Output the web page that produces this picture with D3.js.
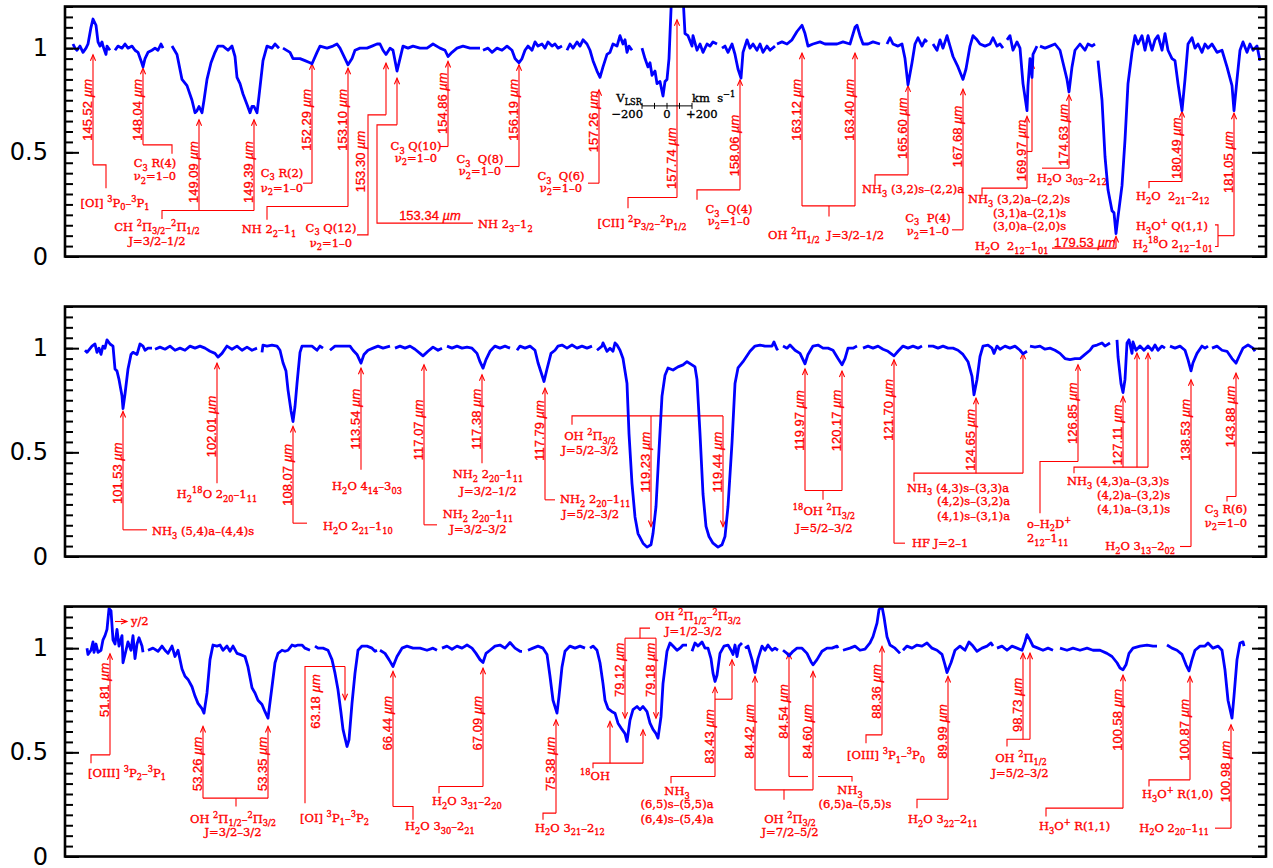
<!DOCTYPE html>
<html>
<head>
<meta charset="utf-8">
<script src="https://cdnjs.cloudflare.com/ajax/libs/d3/7.8.5/d3.min.js"></script>
<style>
body{margin:0;background:#fff}
svg{display:block}
.lbl{font-family:"DejaVu Serif",serif;font-size:11.5px;fill:#f00;stroke:#f00;stroke-width:0.35px;white-space:pre}
.wl{font-family:"Liberation Sans",Arial,sans-serif;font-size:13px;fill:#f00;stroke:#f00;stroke-width:0.3px;white-space:pre}
.yl{font-family:"DejaVu Sans",sans-serif;font-size:24px;fill:#000}
</style>
</head>
<body>
<svg id="chart" width="1273" height="868"></svg>
<script>
// spectra: each panel is a list of segments, points are [position along panel, normalised flux]
const spec1=[
 [[8,1.02],[10,1.0],[12,0.99],[15,1.01],[18,0.98],[21,1.0],[23,1.02],[26,1.10],[28,1.14],[31,1.11],[33,1.03],[35,1.01],[37,1.03],[38,1.01],[41,0.97],[42,1.01],[45,0.99]],
 [[50,0.99],[53,1.01],[57,1.0],[60,1.02],[63,1.0],[67,1.01],[70,0.99],[73,0.98],[76,0.94],[78,0.91],[80,0.95],[83,0.98],[87,0.99],[90,1.0],[93,0.99],[96,1.02],[98,1.0]],
 [[107,1.01],[112,0.97],[117,0.85],[122,0.82],[127,0.75],[130,0.69],[132,0.70],[134,0.72],[137,0.69],[139,0.75],[142,0.85],[146,0.93],[150,0.98],[153,1.01],[158,1.01],[163,0.99],[167,1.01],[170,0.96],[172,0.86],[175,0.83],[178,0.78],[182,0.73],[185,0.69],[187,0.72],[189,0.72],[192,0.69],[194,0.77],[198,0.94],[202,1.01],[207,1.0],[210,1.02],[214,1.0]],
 [[218,1.0],[225,0.98],[228,0.95],[235,0.95],[240,0.94],[245,0.93],[247,0.925],[252,0.98],[255,1.01],[262,1.0],[268,1.01],[272,1.02],[275,1.0],[278,0.97],[283,0.92],[287,0.95],[290,0.99],[295,1.0],[302,1.0],[307,1.01],[312,1.02],[315,1.02],[318,0.99],[321,0.97],[325,1.0],[328,0.99],[332,0.89],[335,0.95],[338,1.01],[343,1.0],[348,1.01],[355,1.0],[362,1.0],[368,1.02],[375,1.0],[380,0.99],[383,0.96],[387,0.98],[392,1.0],[398,1.01],[405,1.0],[415,1.0]],
 [[418,0.99],[423,1.0],[427,0.98],[432,1.0],[437,0.99],[442,1.01],[447,0.99],[450,0.95],[452,0.94],[454,0.93],[457,0.95],[460,0.99],[463,1.01],[467,0.99],[470,1.03],[473,1.01],[477,1.02],[480,1.0],[483,1.03],[487,1.01],[490,1.02],[493,1.0],[497,1.01]],
 [[502,0.99],[505,1.02],[508,1.0],[512,1.03],[515,1.01],[518,1.04],[522,1.02],[525,0.99],[528,0.94],[532,0.89],[535,0.86],[538,0.91],[542,0.97],[545,0.98],[548,1.02],[552,1.01],[555,1.06],[558,1.02],[560,1.04],[562,0.98],[564,1.01],[567,0.99]],
 [[577,1.0],[580,0.95],[583,0.91],[585,0.93],[587,0.87],[590,0.89],[592,0.83],[595,0.84],[598,0.77],[600,0.84],[602,0.85],[604,0.95],[607,1.3],[611,1.5],[615,1.5],[618,1.25],[620,1.07],[623,1.06],[627,1.01],[628,1.06],[632,0.99],[635,1.02],[638,0.98],[642,1.02],[645,1.01],[648,1.03],[652,1.02]],
 [[657,1.0],[660,1.01],[663,0.98],[667,1.02],[670,0.97],[673,0.9],[676,0.856],[678,0.98],[682,1.04],[685,1.0],[688,1.02],[692,0.99],[695,1.02],[698,0.98],[702,1.01],[705,0.99],[710,1.01]],
 [[712,1.02],[717,1.03],[722,1.02],[727,1.04],[732,1.08],[737,1.11],[740,1.07],[743,1.01],[748,1.02],[755,1.03],[760,1.02],[765,1.02],[772,1.02],[778,1.03],[785,1.02],[790,1.10],[792,1.11],[795,1.06],[798,1.02],[803,1.02],[808,1.03],[815,1.02]],
 [[822,1.02],[825,1.05],[828,1.02],[833,1.01],[837,1.02],[840,0.95],[843,0.824],[847,0.93],[850,1.02],[853,1.05],[857,1.01],[860,1.04],[862,1.03]],
 [[868,1.02],[872,0.99],[875,1.04],[878,1.0],[882,1.06],[885,1.01],[888,0.96],[893,0.91],[898,0.85],[901,0.9],[905,1.01],[908,1.06],[912,1.04],[915,1.02],[920,1.01],[925,1.02],[928,1.05],[932,1.01],[935,1.02],[938,1.0]],
 [[942,1.04],[945,1.06],[948,0.99],[952,1.03],[955,1.0],[958,0.83],[962,0.7],[963,0.82],[965,0.95],[967,0.86],[968,0.97],[972,1.01]],
 [[975,1.01],[980,1.0],[985,1.01],[990,1.02],[995,0.99],[998,0.93],[1002,0.85],[1004,0.79],[1007,0.91],[1010,0.99],[1015,1.02],[1020,0.99],[1023,1.02],[1027,1.01],[1030,1.02]],
 [[1033,0.94],[1037,0.75],[1040,0.48],[1043,0.32],[1047,0.22],[1049,0.21],[1051,0.11],[1053,0.19],[1057,0.34],[1060,0.56],[1063,0.83],[1067,0.98],[1070,1.06],[1073,1.02],[1077,1.06],[1080,0.99],[1083,1.06],[1087,0.99],[1090,1.04],[1093,1.06],[1097,0.99],[1100,1.07],[1103,0.99],[1107,0.95],[1110,0.94],[1113,0.83],[1117,0.70],[1120,0.85],[1123,1.02],[1127,1.05],[1130,1.0],[1133,1.02],[1137,0.98],[1140,1.02],[1143,1.0],[1147,1.02],[1152,0.98],[1157,0.99],[1162,0.91],[1167,0.82],[1169,0.70],[1172,0.85],[1175,0.99],[1178,1.03],[1182,0.98],[1185,1.02],[1188,0.99],[1192,1.01],[1195,0.94]]
]
const spec2=[
 [[20,0.99],[22,0.98],[27,1.01],[30,1.02],[32,0.98],[34,1.0],[36,0.97],[38,1.01],[40,1.0],[42,1.04],[45,1.02],[48,1.01],[50,0.9],[52,0.89],[54,0.85],[57,0.77],[58,0.71],[60,0.78],[63,0.9],[66,0.97],[68,0.98],[72,0.97],[75,1.02],[78,1.01],[80,0.99],[83,1.0],[87,1.0]],
 [[90,0.995],[95,1.005],[100,0.995],[105,1.01],[110,0.99],[115,1.0],[120,0.99],[125,1.01],[130,1.0],[135,1.01],[140,1.0],[145,0.985],[150,0.975],[153,0.957],[157,0.975],[162,1.01],[167,0.995],[172,1.01],[177,0.99],[182,1.005],[187,0.99],[192,1.0]],
 [[197,0.98],[198,1.015],[202,1.01],[207,1.015],[212,1.01],[215,0.99],[218,0.93],[221,0.89],[223,0.8],[226,0.7],[228,0.648],[230,0.72],[232,0.83],[235,0.98],[237,1.01],[242,1.01],[247,1.01],[252,0.99],[255,1.01],[258,1.0]],
 [[265,0.99],[270,1.01],[275,1.01],[280,1.01],[285,1.01],[288,0.99],[292,0.97],[296,0.928],[299,0.97],[303,0.99],[308,1.0],[313,1.01],[318,1.0],[325,1.01]],
 [[330,1.0],[335,1.01],[340,1.0],[345,1.01],[350,0.995],[355,0.975],[358,0.963],[363,0.985],[368,1.005],[373,0.99],[377,1.0]],
 [[382,1.01],[387,1.0],[392,1.01],[397,1.0],[402,1.005],[407,1.0],[412,0.975],[415,0.935],[418,0.904],[421,0.945],[425,0.985],[430,1.01],[435,1.0],[440,1.01],[445,1.0]],
 [[452,0.99],[455,1.01],[460,1.0],[465,1.01],[470,0.99],[473,0.93],[477,0.87],[479,0.84],[482,0.9],[486,0.975],[490,0.99],[493,1.01],[497,1.015],[502,1.0],[507,1.015],[512,1.0],[517,1.01],[522,1.0],[527,1.01]],
 [[532,0.99],[537,1.01],[538,1.025],[542,0.985],[545,1.0],[548,0.985],[550,1.025],[552,1.015],[555,0.99],[558,0.95],[562,0.83],[564,0.59],[567,0.35],[570,0.19],[573,0.11],[578,0.064],[582,0.045],[586,0.056],[588,0.11],[591,0.24],[594,0.51],[597,0.77],[600,0.87],[603,0.905],[608,0.895],[613,0.91],[618,0.92],[622,0.935],[627,0.92],[630,0.91],[632,0.85],[635,0.59],[638,0.3],[641,0.145],[644,0.096],[648,0.064],[653,0.045],[657,0.056],[660,0.096],[663,0.24],[667,0.545],[670,0.83],[673,0.905],[678,0.935],[685,0.985],[690,1.01],[695,1.015],[700,1.01],[703,1.01],[707,1.01],[709,1.03],[712,0.995],[713,1.0]],
 [[718,1.01],[722,1.0],[725,1.015],[730,0.99],[735,0.975],[738,0.945],[740,0.925],[743,0.97],[748,1.01],[753,1.015],[758,1.0],[763,1.0],[768,0.99],[773,0.95],[777,0.92],[780,0.95],[783,1.0],[788,1.0],[792,1.01]],
 [[798,1.0],[803,1.01],[808,1.0],[813,1.01],[818,0.995],[823,0.985],[829,0.963],[833,0.985],[838,1.01],[843,1.0],[848,1.01],[853,1.0],[857,1.01]],
 [[863,1.01],[868,1.01],[873,1.0],[878,1.01],[883,1.0],[888,1.0],[893,0.99],[898,0.97],[903,0.935],[907,0.865],[909,0.776],[912,0.85],[915,0.96],[918,1.01],[923,1.015],[927,1.0],[929,0.975],[932,1.01],[935,0.995],[940,1.01],[945,1.0],[950,1.01],[955,0.99],[958,0.973],[962,0.985]],
 [[965,1.01],[970,1.005],[975,1.01],[980,0.995],[985,1.0],[990,0.99],[995,0.975],[1000,0.95],[1005,0.945],[1010,0.95],[1015,0.95],[1020,0.97],[1025,0.99],[1028,1.01],[1032,1.015],[1037,1.025],[1040,1.01],[1045,1.025]],
 [[1052,1.04],[1053,0.96],[1056,0.83],[1058,0.787],[1060,0.85],[1062,1.025],[1064,1.04],[1067,0.975],[1068,1.03],[1071,0.99],[1075,1.01],[1079,0.99],[1083,1.01],[1087,0.99],[1090,1.015],[1093,0.99],[1097,1.01],[1100,1.0]],
 [[1105,1.01],[1110,1.0],[1115,1.01],[1120,0.99],[1123,0.945],[1126,0.891],[1128,0.93],[1132,0.975],[1137,1.01],[1140,1.0],[1143,1.01]],
 [[1147,1.0],[1152,1.01],[1157,0.99],[1162,0.985],[1167,0.95],[1171,0.928],[1174,0.96],[1178,1.0],[1183,1.015],[1188,1.0],[1190,0.985]]
]
const spec3=[
 [[22,1.0],[23,0.97],[26,0.99],[28,1.03],[29,0.98],[31,1.02],[33,0.98],[36,0.99],[38,1.04],[40,1.06],[42,1.09],[44,1.19],[46,1.18],[48,1.04],[50,1.02],[52,1.09],[54,1.01],[57,1.06],[58,0.93],[61,0.99],[63,1.03],[66,0.99],[68,1.06],[70,0.95],[72,1.02],[74,1.05],[77,1.01],[78,0.98]],
 [[83,0.99],[88,1.0],[93,0.985],[97,1.01],[100,0.99],[103,0.975],[107,1.01],[110,0.96],[113,0.99],[117,0.9],[120,0.865],[123,0.85],[127,0.815],[130,0.77],[133,0.735],[137,0.71],[139,0.688],[142,0.785],[145,0.945],[148,1.015],[152,1.01],[155,1.015],[158,0.99],[162,1.01],[165,0.985],[168,1.01],[172,0.975],[175,0.97],[180,0.96],[183,0.91],[187,0.81],[190,0.785],[193,0.75],[197,0.73],[200,0.695],[203,0.664],[207,0.815],[210,0.93],[213,0.975],[217,0.99],[220,0.985],[223,0.99],[227,1.015],[230,1.01],[233,1.015],[237,1.015],[240,1.0],[245,0.99]],
 [[250,1.01],[253,1.0],[258,1.0],[263,0.99],[267,0.945],[270,0.88],[273,0.8],[276,0.69],[278,0.61],[282,0.528],[284,0.56],[287,0.735],[290,0.88],[293,0.99],[297,1.01],[302,1.01],[307,1.0],[310,0.985],[312,0.99]],
 [[315,0.99],[320,0.975],[324,0.945],[328,0.912],[332,0.96],[337,1.0],[342,1.01],[348,1.0],[355,1.0],[362,0.99],[368,1.0],[372,0.99]],
 [[377,1.0],[382,1.01],[387,0.995],[392,1.01],[397,1.0],[402,1.015],[407,1.0],[411,0.975],[415,0.945],[418,0.931],[421,0.975],[425,0.99],[430,1.01],[435,1.015],[440,1.0],[445,1.027],[450,1.0],[455,0.985],[457,0.985]],
 [[463,0.99],[468,1.0],[473,1.01],[478,1.0],[482,0.97],[485,0.865],[488,0.75],[492,0.688],[494,0.77],[497,0.91],[500,0.985],[505,1.01],[510,1.0],[515,1.01],[520,1.0]],
 [[525,1.0],[528,1.01],[532,0.99],[535,0.93],[538,0.83],[540,0.75],[543,0.71],[547,0.695],[550,0.688],[553,0.64],[557,0.61],[560,0.59],[562,0.552],[565,0.655],[568,0.705],[572,0.72],[575,0.705],[578,0.72],[582,0.695],[585,0.64],[588,0.61],[591,0.59],[593,0.568],[596,0.67],[598,0.83],[602,0.985],[605,1.025],[608,1.01],[612,0.99],[615,1.0],[618,1.015],[622,1.015]],
 [[627,0.985],[630,1.025],[633,1.01],[637,1.03],[640,1.0],[643,1.0],[646,0.95],[648,0.88],[650,0.84],[652,0.87],[655,0.975],[659,1.01],[663,1.015],[666,0.99],[668,0.97],[670,1.015],[672,0.96],[674,1.01],[677,1.025]],
 [[680,1.0],[683,1.01],[687,0.945],[690,0.883],[693,0.95],[697,1.01],[700,0.99],[703,1.015],[707,0.99],[710,1.0],[713,0.99]],
 [[718,0.99],[722,0.975],[724,0.963],[728,0.985],[732,1.0],[737,1.0],[742,0.975],[746,0.935],[748,0.92],[752,0.945],[757,0.985],[762,1.0],[767,1.0],[772,1.01],[773,1.0]],
 [[778,0.99],[785,1.0],[790,1.01],[795,0.99],[800,0.995],[805,1.025],[808,1.055],[812,1.12],[814,1.185],[817,1.2],[819,1.15],[822,1.055],[825,1.015],[830,1.0],[835,0.975]],
 [[838,0.99],[842,1.01],[847,1.0],[852,1.015],[857,1.01],[862,1.025],[867,1.0],[872,0.99],[877,0.97],[880,0.92],[882,0.883],[886,0.93],[890,0.99],[895,1.01],[900,0.99],[904,1.03],[908,1.01],[912,0.985],[917,1.0],[922,1.01],[926,1.025],[928,1.01]],
 [[932,1.0],[937,1.01],[942,0.99],[947,1.01],[952,1.0],[957,0.99],[960,1.03],[962,1.065],[965,1.04],[968,1.01],[973,1.0],[978,0.99],[983,1.0],[988,0.99]],
 [[995,1.0],[1002,0.99],[1008,1.0],[1015,0.99],[1022,1.0],[1028,0.99],[1035,0.99],[1042,0.975],[1047,0.96],[1052,0.93],[1055,0.905],[1058,0.896],[1061,0.92],[1064,0.975],[1068,1.0],[1075,1.01],[1082,1.015],[1088,1.01],[1092,1.01]],
 [[1102,1.015],[1107,1.0],[1112,0.99],[1117,0.97],[1121,0.92],[1124,0.891],[1127,0.945],[1130,0.99],[1135,1.01],[1140,1.01],[1143,1.025],[1148,1.0],[1153,1.01],[1157,0.99],[1160,0.895],[1163,0.75],[1167,0.664],[1169,0.77],[1172,0.945],[1175,1.025],[1178,1.03],[1179,1.01]]
]

// line identifications: arrows [position, flux at foot, flux at tip]
const arrows1=[[28,0.44,0.968],[78,0.536,0.904],[134,0.221,0.656],[189,0.221,0.656],[247,0.352,0.925],[283,0.24,0.904],[321,0.68,0.928],[332,0.632,0.856],[383,0.528,0.936],[454,0.432,0.92],[534,0.352,0.8],[612,0.283,1.136],[675,0.32,0.848],[737,0.243,0.976],[790,0.243,0.976],[843,0.392,0.819],[898,0.128,0.803],[962,0.328,0.672],[967,0.504,0.93],[1004,0.424,0.776],[1051,0.04,0.096],[1117,0.36,0.696],[1169,0.1,0.688]]
const links1=[
 [[41,0.328],[41,0.44],[28,0.44]],[[107,0.493],[107,0.536],[78,0.536]],[[97,0.18],[97,0.221],[189,0.221]],[[238,0.352],[247,0.352]],
 [[202,0.176],[202,0.24],[283,0.24]],[[292,0.104],[303,0.104],[303,0.68],[321,0.68]],[[332,0.632],[312,0.632],[312,0.16],[408,0.16]],
 [[375,0.528],[383,0.528]],[[440,0.432],[454,0.432]],[[523,0.352],[534,0.352]],[[563,0.232],[563,0.283],[612,0.283]],
 [[632,0.272],[632,0.32],[675,0.32]],[[737,0.243],[790,0.243]],[[764,0.243],[764,0.192]],[[810,0.344],[810,0.392],[843,0.392]],
 [[887,0.128],[898,0.128]],[[917,0.288],[917,0.328],[962,0.328]],[[962,0.504],[967,0.504]],[[977,0.424],[1004,0.424]],
 [[987,0.04],[1051,0.04]],[[1084,0.328],[1084,0.36],[1117,0.36]],[[1150,0.152],[1153,0.152],[1153,0.048],[1150,0.048]],[[1153,0.1],[1169,0.1]]
]
const waves1=[[28,0.704,'145.52'],[78,0.704,'148.04'],[134,0.405,'149.09'],[189,0.405,'149.39'],[247,0.656,'152.29'],[283,0.656,'153.10'],[301,0.456,'153.30'],[383,0.736,'154.86'],[454,0.704,'156.19'],[534,0.648,'157.26'],[612,0.472,'157.74'],[675,0.533,'158.06'],[737,0.704,'163.12'],[790,0.704,'163.40'],[843,0.616,'165.60'],[898,0.576,'167.68'],[962,0.509,'169.97'],[1004,0.584,'174.63'],[1117,0.52,'180.49'],[1169,0.453,'181.05']]
const flatWaves1=[[365,0.176,'middle','153.34'],[989,0.048,'start','179.53']]
const names1=[
 [50,0.24,'middle','[OI] ^{3}P_{0}–^{3}P_{1}'],
 [90,0.43,'middle','C_{3} R(4)'],[90,0.368,'middle','ν_{2}=1–0'],
 [92,0.124,'middle','CH ^{2}Π_{3/2}–^{2}Π_{1/2}'],[92,0.054,'middle','J=3/2–1/2'],
 [217,0.384,'middle','C_{3} R(2)'],[217,0.312,'middle','ν_{2}=1–0'],
 [204,0.112,'middle','NH 2_{2}–1_{1}'],
 [266,0.12,'middle','C_{3} Q(12)'],[266,0.048,'middle','ν_{2}=1–0'],
 [413,0.136,'start','NH 2_{3}–1_{2}'],
 [351,0.512,'middle','C_{3} Q(10)'],[351,0.456,'middle','ν_{2}=1–0'],
 [415,0.448,'middle','C_{3}  Q(8)'],[415,0.392,'middle','ν_{2}=1–0'],
 [496,0.368,'middle','C_{3}  Q(6)'],[496,0.312,'middle','ν_{2}=1–0'],
 [577,0.144,'middle','[CII] ^{2}P_{3/2}–^{2}P_{1/2}'],
 [664,0.208,'middle','C_{3}  Q(4)'],[664,0.152,'middle','ν_{2}=1–0'],
 [703,0.083,'start','OH ^{2}Π_{1/2}  J=3/2–1/2'],
 [797,0.304,'start','NH_{3} (3,2)s–(2,2)a'],
 [863,0.168,'middle','C_{3}  P(4)'],[863,0.104,'middle','ν_{2}=1–0'],
 [903,0.256,'start','NH_{3} (3,2)a–(2,2)s'],[928,0.189,'start','(3,1)a–(2,1)s'],[928,0.128,'start','(3,0)a–(2,0)s'],
 [972,0.36,'start','H_{2}O 3_{03}–2_{12}'],
 [910,0.032,'start','H_{2}O  2_{12}–1_{01}'],
 [1071,0.272,'start','H_{2}O  2_{21}–2_{12}'],
 [1143,0.128,'end','H_{3}O^{+} Q(1,1)'],
 [1148,0.04,'end','H_{2}^{18}O 2_{12}–1_{01}']
]

const arrows2=[[58,0.128,0.696],[152,0.352,0.928],[228,0.16,0.624],[296,0.416,0.904],[359,0.152,0.92],[417,0.448,0.872],[480,0.272,0.808],[586,0.675,0.144],[658,0.675,0.144],[740,0.317,0.9],[777,0.317,0.89],[829,0.064,0.944],[911,0.4,0.76],[958,0.4,0.976],[1013,0.456,0.92],[1058,0.429,0.768],[1072,0.429,0.976],[1083,0.429,0.976],[1126,0.048,0.848],[1171,0.288,0.88]]
const links2=[
 [[82,0.128],[58,0.128]],[[242,0.16],[228,0.16]],[[359,0.152],[372,0.152]],[[480,0.272],[490,0.272]],
 [[507,0.632],[507,0.675],[658,0.675]],[[740,0.317],[777,0.317]],[[758,0.317],[758,0.272]],[[829,0.064],[840,0.064]],
 [[849,0.36],[849,0.4],[958,0.4]],[[975,0.208],[975,0.456],[1013,0.456]],[[1009,0.4],[1009,0.429],[1083,0.429]],
 [[1126,0.048],[1115,0.048]],[[1162,0.264],[1162,0.288],[1171,0.288]]
]
const waves2=[[58,0.4,'101.53'],[152,0.624,'102.01'],[228,0.392,'108.07'],[296,0.66,'113.54'],[359,0.608,'117.07'],[417,0.66,'117.38'],[480,0.605,'117.79'],[586,0.453,'119.23'],[658,0.453,'119.44'],[740,0.653,'119.97'],[777,0.653,'120.17'],[829,0.704,'121.70'],[911,0.56,'124.65'],[1013,0.688,'126.85'],[1058,0.584,'127.11'],[1126,0.608,'138.53'],[1171,0.672,'143.88']]
const names2=[
 [87,0.104,'start','NH_{3} (5,4)a–(4,4)s'],
 [152,0.28,'middle','H_{2}^{18}O 2_{20}–1_{11}'],
 [258,0.128,'start','H_{2}O 2_{21}–1_{10}'],
 [302,0.32,'middle','H_{2}O 4_{14}–3_{03}'],
 [413,0.184,'middle','NH_{2} 2_{20}–1_{11}'],[413,0.112,'middle','J=3/2–3/2'],
 [423,0.376,'middle','NH_{2} 2_{20}–1_{11}'],[423,0.296,'middle','J=3/2–1/2'],
 [495,0.256,'start','NH_{2} 2_{20}–1_{11}'],[497,0.184,'start','J=5/2–3/2'],
 [525,0.56,'middle','OH ^{2}Π_{3/2}'],[525,0.493,'middle','J=5/2–3/2'],
 [759,0.2,'middle','^{18}OH ^{2}Π_{3/2}'],[759,0.12,'middle','J=5/2–3/2'],
 [847,0.048,'start','HF J=2–1'],
 [842,0.312,'start','NH_{3} (4,3)s–(3,3)a'],[872,0.248,'start','(4,2)s–(3,2)a'],[872,0.176,'start','(4,1)s–(3,1)a'],
 [962,0.138,'start','o–H_{2}D^{+}'],[962,0.068,'start','2_{12}–1_{11}'],
 [1002,0.344,'start','NH_{3} (4,3)a–(3,3)s'],[1032,0.275,'start','(4,2)a–(3,2)s'],[1032,0.208,'start','(4,1)a–(3,1)s'],
 [1110,0.032,'end','H_{2}O 3_{13}–2_{02}'],
 [1161,0.208,'middle','C_{3} R(6)'],[1161,0.144,'middle','ν_{2}=1–0']
]

const arrows3=[[45,0.488,0.973],[138,0.28,0.624],[203,0.28,0.624],[280,0.912,0.752],[328,0.24,0.888],[418,0.336,0.904],[491,0.208,0.656],[545,0.448,0.648],[578,0.448,0.608],[560,1.048,0.664],[591,1.048,0.664],[650,0.384,0.813],[667,0.755,0.944],[690,0.32,0.864],[748,0.32,0.888],[724,0.384,0.976],[817,0.584,1.008],[883,0.275,0.864],[958,0.563,0.976],[965,0.563,0.976],[1058,0.232,0.87],[1125,0.368,0.864],[1166,0.136,0.632]]
const links3=[
 [[26,0.448],[26,0.488],[45,0.488]],[[138,0.28],[203,0.28]],[[171,0.28],[171,0.24]],[[240,0.256],[240,0.912],[280,0.912]],
 [[328,0.24],[348,0.24],[348,0.176]],[[418,0.336],[374,0.336],[374,0.304]],[[491,0.208],[478,0.208],[478,0.176]],
 [[528,0.424],[528,0.448],[578,0.448]],[[560,1.048],[591,1.048]],[[575,1.048],[575,1.096],[585,1.096]],
 [[650,0.755],[667,0.755]],[[650,0.384],[606,0.384],[606,0.352]],[[690,0.32],[748,0.32]],[[719,0.32],[719,0.272]],
 [[724,0.384],[743,0.384]],[[753,0.384],[787,0.384],[787,0.36]],[[817,0.584],[801,0.584],[801,0.544]],
 [[883,0.275],[852,0.275],[852,0.232]],[[942,0.528],[942,0.563],[965,0.563]],[[1058,0.232],[981,0.232],[981,0.192]],
 [[1125,0.368],[1084,0.368],[1084,0.336]],[[1166,0.136],[1150,0.136]]
]
const waves3=[[45,0.8,'51.81'],[138,0.445,'53.26'],[203,0.445,'53.35'],[256,0.744,'63.18'],[328,0.64,'66.44'],[418,0.64,'67.09'],[491,0.445,'75.38'],[560,0.896,'79.12'],[591,0.896,'79.18'],[650,0.576,'83.43'],[690,0.6,'84.42'],[724,0.696,'84.54'],[748,0.6,'84.60'],[817,0.792,'88.36'],[883,0.6,'89.99'],[958,0.728,'98.73'],[1058,0.656,'100.58'],[1125,0.608,'100.87'],[1166,0.408,'100.98']]
const names3=[
 [23,0.384,'start','[OIII] ^{3}P_{2}–^{3}P_{1}'],
 [66,1.112,'start','y/2'],
 [168,0.163,'middle','OH ^{2}Π_{1/2}–^{2}Π_{3/2}'],[168,0.099,'middle','J=3/2–3/2'],
 [235,0.168,'start','[OI] ^{3}P_{1}–^{3}P_{2}'],
 [340,0.128,'start','H_{2}O 3_{30}–2_{21}'],
 [367,0.248,'start','H_{2}O 3_{31}–2_{20}'],
 [470,0.12,'start','H_{2}O 3_{21}–2_{12}'],
 [530,0.368,'middle','^{18}OH'],
 [590,1.136,'start','OH ^{2}Π_{1/2}–^{2}Π_{3/2}'],[600,1.064,'start','J=1/2–3/2'],
 [612,0.296,'middle','NH_{3}'],[612,0.232,'middle','(6,5)s–(5,5)a'],[612,0.163,'middle','(6,4)s–(5,4)a'],
 [725,0.163,'middle','OH ^{2}Π_{3/2}'],[725,0.099,'middle','J=7/2–5/2'],
 [785,0.3,'middle','NH_{3}'],[790,0.234,'middle','(6,5)a–(5,5)s'],
 [782,0.467,'start','[OIII] ^{3}P_{1}–^{3}P_{0}'],
 [843,0.16,'start','H_{2}O 3_{22}–2_{11}'],
 [956,0.456,'middle','OH ^{2}Π_{1/2}'],[955,0.381,'middle','J=5/2–3/2'],
 [974,0.128,'start','H_{3}O^{+} R(1,1)'],
 [1077,0.28,'start','H_{3}O^{+} R(1,0)'],
 [1144,0.12,'end','H_{2}O 2_{20}–1_{11}']
]
const halfArrow3=[[50,1.128],[62,1.128]]

const yTickMajor=[0,0.5,1]
const yTickMinor=d3.range(0,1.2001,0.05)
const vlsrTicks=[-200,-100,0,100,200]

let margin={left:65,top:6.5}
let pw=1201, ph=250, gap=300
let svg=d3.select('#chart')
let red='#ff0000'

let x=d3.scaleLinear().domain([0,1201]).range([0,pw])
let y=d3.scaleLinear().domain([0,1.2]).range([ph,0])
let line=d3.line().x(d=>x(d[0])).y(d=>y(d[1]))

// sub/superscript markup: _{..} ^{..} *italic*
function rich(text,str,fs){
  let parts=str.split(/(_\{[^}]*\}|\^\{[^}]*\}|\*[^*]*\*)/).filter(s=>s.length)
  let shift=0
  parts.forEach(s=>{
    let t=s, sh=0, small=false, it=false
    if(s.startsWith('_{')){t=s.slice(2,-1);sh=fs*0.32;small=true}
    else if(s.startsWith('^{')){t=s.slice(2,-1);sh=-fs*0.42;small=true}
    else if(s.startsWith('*')){t=s.slice(1,-1);it=true}
    let ts=text.append('tspan').attr('dy',sh-shift).text(t)
    if(small) ts.attr('font-size',fs*0.72)
    if(it) ts.attr('font-style','italic')
    shift=sh
  })
}

let panels=[
  {spec:spec1,arrows:arrows1,links:links1,waves:waves1,names:names1,flat:flatWaves1},
  {spec:spec2,arrows:arrows2,links:links2,waves:waves2,names:names2,flat:[]},
  {spec:spec3,arrows:arrows3,links:links3,waves:waves3,names:names3,flat:[]}
]

panels.forEach((p,i)=>{
  let g=svg.append('g').attr('transform',`translate(${margin.left},${margin.top+i*gap})`)
  g.append('clipPath').attr('id','clip'+i).append('rect').attr('width',pw).attr('height',ph)

  // annotation lines
  let ann=g.append('g').attr('stroke',red).attr('stroke-width',1.1).attr('fill','none')
  ann.selectAll('path.link').data(p.links).join('path').attr('class','link').attr('d',d=>line(d))
  ann.selectAll('line.arrow').data(p.arrows).join('line').attr('class','arrow')
     .attr('x1',d=>x(d[0])).attr('x2',d=>x(d[0])).attr('y1',d=>y(d[1])).attr('y2',d=>y(d[2]))
  ann.selectAll('path.head').data(p.arrows).join('path').attr('class','head')
     .attr('d',d=>{
       let tx=x(d[0]), ty=y(d[2]), s=d[2]>d[1]?1:-1
       return `M${tx-2.6},${ty+6*s}L${tx},${ty}L${tx+2.6},${ty+6*s}`
     })

  // rotated wavelength labels
  g.selectAll('g.wave').data(p.waves).join('g').attr('class','wave')
   .attr('transform',d=>`translate(${x(d[0])-1.5},${y(d[1])}) rotate(-90)`)
   .each(function(d){
     let t=d3.select(this).append('text').attr('class','wl').attr('text-anchor','middle')
     rich(t,d[2]+' *µm*',13)
   })
  g.selectAll('text.flat').data(p.flat).join('text').attr('class','wl flat')
   .attr('x',d=>x(d[0])).attr('y',d=>y(d[1])).attr('text-anchor',d=>d[2])
   .each(function(d){rich(d3.select(this),d[3]+' *µm*',13)})

  // species names
  g.selectAll('text.nm').data(p.names).join('text').attr('class','lbl nm')
   .attr('x',d=>x(d[0])).attr('y',d=>y(d[1])).attr('text-anchor',d=>d[2])
   .each(function(d){rich(d3.select(this),d[3],11.5)})

  // spectrum
  g.append('g').attr('clip-path',`url(#clip${i})`)
   .selectAll('path.spec').data(p.spec).join('path').attr('class','spec')
   .attr('d',d=>line(d)).attr('fill','none').attr('stroke','#0000ff')
   .attr('stroke-width',2.8).attr('stroke-linejoin','round')

  // ticks on both sides
  let axes=[
    g.append('g').call(d3.axisRight(y).tickValues(yTickMinor).tickSize(8).tickFormat('')),
    g.append('g').call(d3.axisRight(y).tickValues(yTickMajor).tickSize(14).tickFormat('')),
    g.append('g').attr('transform',`translate(${pw},0)`).call(d3.axisLeft(y).tickValues(yTickMinor).tickSize(8).tickFormat('')),
    g.append('g').attr('transform',`translate(${pw},0)`).call(d3.axisLeft(y).tickValues(yTickMajor).tickSize(14).tickFormat(''))
  ]
  axes.forEach(a=>{a.select('.domain').remove();a.selectAll('line').attr('stroke','#000').attr('stroke-width',2)})

  g.selectAll('text.yl').data(yTickMajor).join('text').attr('class','yl')
   .attr('x',-17).attr('y',d=>y(d)).attr('dy','0.34em').attr('text-anchor','end').text(d=>String(d))

  g.append('rect').attr('width',pw).attr('height',ph).attr('fill','none').attr('stroke','#000').attr('stroke-width',2.6)

  if(i==0){
    // velocity scale bar
    let vx=d3.scaleLinear().domain([-200,200]).range([x(577),x(627)])
    let vy=y(0.723)
    let vb=g.append('g').attr('stroke','#000').attr('stroke-width',1)
    vb.append('line').attr('x1',vx(-200)).attr('x2',vx(200)).attr('y1',vy).attr('y2',vy)
    vb.selectAll('line.vt').data(vlsrTicks).join('line').attr('class','vt')
      .attr('x1',d=>vx(d)).attr('x2',d=>vx(d)).attr('y1',vy-3).attr('y2',vy+3)
    let t1=g.append('text').attr('class','lbl').style('fill','#000').style('stroke','#000').attr('x',vx(-200)).attr('y',y(0.744)).attr('text-anchor','end')
    rich(t1,'V_{LSR}',11.5)
    let t2=g.append('text').attr('class','lbl').style('fill','#000').style('stroke','#000').attr('x',vx(200)).attr('y',y(0.744))
    rich(t2,'km  s^{−1}',11.5)
    g.append('text').attr('class','lbl').style('fill','#000').style('stroke','#000').attr('x',vx(-200)+1).attr('y',y(0.664)).attr('text-anchor','end').text('−200')
    g.append('text').attr('class','lbl').style('fill','#000').style('stroke','#000').attr('x',vx(0)).attr('y',y(0.664)).attr('text-anchor','middle').text('0')
    g.append('text').attr('class','lbl').style('fill','#000').style('stroke','#000').attr('x',vx(200)-6).attr('y',y(0.664)).text('+200')
  }
  if(i==2){
    g.append('path').attr('d',line(halfArrow3)).attr('stroke',red).attr('stroke-width',1.1).attr('fill','none')
    let hx=x(halfArrow3[1][0]), hy=y(halfArrow3[1][1])
    g.append('path').attr('d',`M${hx-6},${hy-2.6}L${hx},${hy}L${hx-6},${hy+2.6}`).attr('stroke',red).attr('stroke-width',1.1).attr('fill','none')
  }
})
</script>
</body>
</html>
